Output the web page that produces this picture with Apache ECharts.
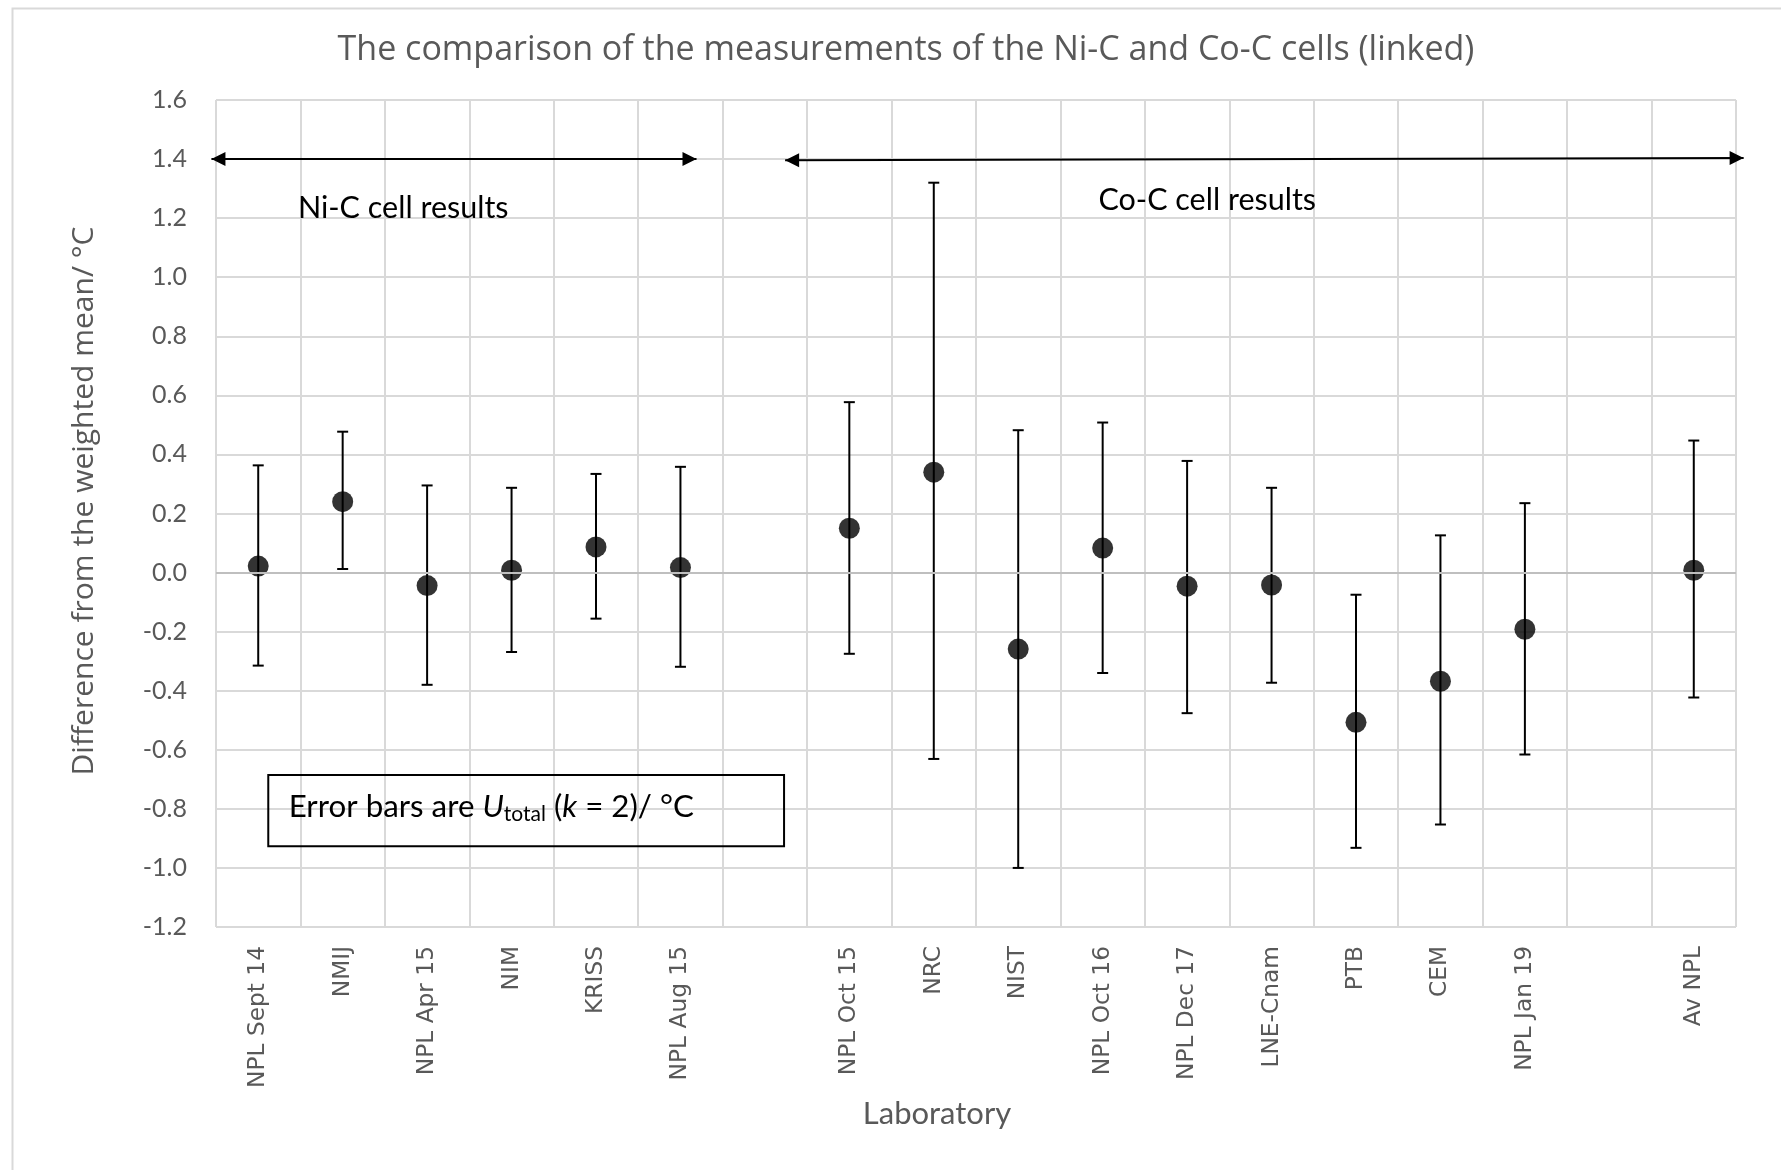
<!DOCTYPE html>
<html>
<head>
<meta charset="utf-8">
<script src="https://cdn.jsdelivr.net/npm/echarts@6/dist/echarts.min.js"></script>
<style>
html,body{margin:0;padding:0;background:#fff;}
#chart{width:1781px;height:1170px;}
</style>
</head>
<body>
<div id="chart"></div>
<script>
// ---- data ----
const categories = ['NPL Sept 14','NMIJ','NPL Apr 15','NIM','KRISS','NPL Aug 15','',
  'NPL Oct 15','NRC','NIST','NPL Oct 16','NPL Dec 17','LNE-Cnam','PTB','CEM','NPL Jan 19',' ','Av NPL'];
const values      = [0.022, 0.240, -0.044, 0.008, 0.087, 0.017, null, 0.150, 0.340, -0.259, 0.083, -0.046, -0.042, -0.507, -0.368, -0.192, null, 0.008];
const upperValues = [0.363, 0.477, 0.295, 0.287, 0.334, 0.358, null, 0.577, 1.320, 0.482, 0.508, 0.378, 0.287, -0.075, 0.126, 0.235, null, 0.447];
const lowerValues = [-0.315, 0.012, -0.380, -0.269, -0.156, -0.319, null, -0.275, -0.631, -1.000, -0.340, -0.476, -0.373, -0.932, -0.853, -0.616, null, -0.423];
const yMin = -1.2, yMax = 1.6, yStep = 0.2;

const titleText = 'The comparison of the measurements of the Ni-C and Co-C cells (linked)';
const yName = 'Difference from the weighted mean/ °C';
const xName = 'Laboratory';

const pointData = [];
const barData = [];
values.forEach((v, i) => {
  if (v !== null) {
    pointData.push([i, v]);
    barData.push([i, lowerValues[i], upperValues[i]]);
  }
});

const chart = echarts.init(document.getElementById('chart'));
const GRAY = '#595959';
const GRID = '#d9d9d9';

function errorBar(params, api) {
  const x = api.value(0);
  const lo = api.coord([x, api.value(1)]);
  const hi = api.coord([x, api.value(2)]);
  const cap = 5.5;
  const st = { stroke: '#000', lineWidth: 2 };
  return {
    type: 'group',
    children: [
      { type: 'line', shape: { x1: hi[0], y1: hi[1], x2: lo[0], y2: lo[1] }, style: st },
      { type: 'line', shape: { x1: hi[0] - cap, y1: hi[1], x2: hi[0] + cap, y2: hi[1] }, style: st },
      { type: 'line', shape: { x1: lo[0] - cap, y1: lo[1], x2: lo[0] + cap, y2: lo[1] }, style: st }
    ]
  };
}

function arrow(p1, p2) {
  const L = 14, H = 7;
  const ch = [];
  ch.push({ type: 'line', shape: { x1: p1[0], y1: p1[1], x2: p2[0], y2: p2[1] }, style: { stroke: '#000', lineWidth: 2 } });
  ch.push({ type: 'polygon', shape: { points: [[p2[0], p2[1]], [p2[0] - L, p2[1] - H], [p2[0] - L, p2[1] + H]] }, style: { fill: '#000' } });
  ch.push({ type: 'polygon', shape: { points: [[p1[0], p1[1]], [p1[0] + L, p1[1] - H], [p1[0] + L, p1[1] + H]] }, style: { fill: '#000' } });
  return ch;
}

function annotations(params, api) {
  const ch = [];
  const a1 = api.coord([-0.054, 1.4]), a2 = api.coord([5.69, 1.4]);
  const b1 = api.coord([6.74, 1.396]), b2 = api.coord([18.09, 1.404]);
  arrow(a1, a2).forEach(c => ch.push(c));
  arrow(b1, b2).forEach(c => ch.push(c));
  const t1 = api.coord([0.97, 1.235]);
  const t2 = api.coord([10.45, 1.262]);
  ch.push({ type: 'text', x: t1[0], y: t1[1], style: { text: 'Ni-C cell results', font: '30.5px Lato', fill: '#000', textVerticalAlign: 'middle' } });
  ch.push({ type: 'text', x: t2[0], y: t2[1], style: { text: 'Co-C cell results', font: '30.5px Lato', fill: '#000', textVerticalAlign: 'middle' } });
  const r1 = api.coord([0.619, -0.685]), r2 = api.coord([6.727, -0.927]);
  ch.push({ type: 'rect', shape: { x: r1[0], y: r1[1], width: r2[0] - r1[0], height: r2[1] - r1[1] }, style: { fill: 'none', stroke: '#000', lineWidth: 2 } });
  const tb = api.coord([0.861, -0.792]);
  ch.push({
    type: 'text', x: tb[0], y: tb[1],
    style: {
      text: '{n|Error bars are }{i|U}{sub|total}{n| (}{i|k}{n| = 2)/ °C}',
      fill: '#000', verticalAlign: 'middle',
      rich: {
        n: { fontFamily: 'Lato', fontSize: 31.3, lineHeight: 36, fill: '#000' },
        i: { fontFamily: 'Lato', fontSize: 31.3, lineHeight: 36, fontStyle: 'italic', fill: '#000' },
        sub: { fontFamily: 'Lato', fontSize: 21, lineHeight: 14, verticalAlign: 'bottom', fill: '#000' }
      }
    }
  });
  return { type: 'group', children: ch };
}

chart.setOption({
  animation: false,
  backgroundColor: '#fff',
  title: {
    text: titleText, left: 906, top: 33, textAlign: 'center', padding: 0,
    textStyle: { fontFamily: 'Open Sans', fontSize: 34, fontWeight: 'normal', color: GRAY }
  },
  graphic: [{
    type: 'rect', left: 10, top: 6, shape: { width: 1800, height: 1200 },
    style: { fill: 'none', stroke: GRID, lineWidth: 2 }, silent: true, z: -10
  }],
  grid: { left: 216, right: 45, top: 100, bottom: 243, containLabel: false },
  xAxis: [{
    type: 'category', data: categories, boundaryGap: true,
    axisLine: { show: false }, axisTick: { show: false },
    axisLabel: { interval: 0, rotate: 90, margin: 19, fontFamily: 'DejaVu Sans', fontSize: 23.3, color: GRAY },
    splitLine: { show: true, interval: 0, lineStyle: { color: GRID, width: 2 } },
    name: xName, nameLocation: 'middle', nameGap: 171,
    nameTextStyle: { fontFamily: 'Lato', fontSize: 31, color: GRAY, padding: [0, 78, 0, 0] }
  }, {
    type: 'value', min: 0, max: categories.length, show: false
  }],
  yAxis: {
    type: 'value', min: yMin, max: yMax, interval: yStep,
    axisLine: { show: false }, axisTick: { show: false },
    axisLabel: { margin: 29, fontFamily: 'Lato', fontSize: 25, color: GRAY, formatter: v => v.toFixed(1) },
    splitLine: { show: true, lineStyle: { color: GRID, width: 2 } },
    name: yName, nameLocation: 'middle', nameGap: 117,
    nameTextStyle: { fontFamily: 'Open Sans', fontSize: 30, color: GRAY, padding: [0, 0, 0, 25] }
  },
  series: [{
    type: 'custom', name: 'U', xAxisIndex: 0, renderItem: errorBar, data: barData, z: 3,
    encode: { x: 0, y: [1, 2] },
    markLine: {
      silent: true, symbol: 'none', label: { show: false },
      lineStyle: { color: '#bfbfbf', width: 2, type: 'solid' },
      data: [{ yAxis: 0 }]
    }
  }, {
    type: 'scatter', name: 'Difference', xAxisIndex: 0, data: pointData, symbol: 'circle', symbolSize: 21,
    itemStyle: { color: '#000' }, z: 4
  }, {
    type: 'custom', name: 'notes', xAxisIndex: 1, data: [[0, 0]], renderItem: annotations, clip: false, z: 5, silent: true
  }]
});
</script>
</body>
</html>
